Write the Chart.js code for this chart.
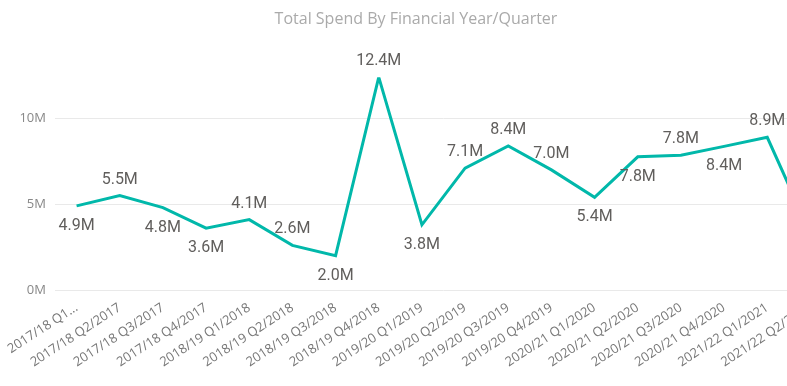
<!DOCTYPE html>
<html>
<head>
<meta charset="utf-8">
<script src="https://cdn.jsdelivr.net/npm/chart.js@4.4.1/dist/chart.umd.min.js"></script>
<style>
  html, body { margin: 0; padding: 0; background: #fff; overflow: hidden; }
  #wrap { position: relative; width: 834px; height: 386px; }
</style>
</head>
<body>
<div id="wrap"><canvas id="spend-line"></canvas></div>
<script>
// quarters along the x axis
const quarters = [
  '2017/18 Q1/2017', '2017/18 Q2/2017', '2017/18 Q3/2017', '2017/18 Q4/2017',
  '2018/19 Q1/2018', '2018/19 Q2/2018', '2018/19 Q3/2018', '2018/19 Q4/2018',
  '2019/20 Q1/2019', '2019/20 Q2/2019', '2019/20 Q3/2019', '2019/20 Q4/2019',
  '2020/21 Q1/2020', '2020/21 Q2/2020', '2020/21 Q3/2020', '2020/21 Q4/2020',
  '2021/22 Q1/2021', '2021/22 Q2/2021'
];

// total spend per quarter
const totalSpend = [
  4900000, 5500000, 4800000, 3600000, 4100000, 2600000, 2000000, 12400000,
  3800000, 7100000, 8400000, 7000000, 5400000, 7760000, 7850000, 8370000,
  8900000, 3300000
];

// y axis ticks
const yTicks = [0, 5000000, 10000000];

// where each data label sits
const labelSide = [
  'below', 'above', 'below', 'below', 'above', 'above', 'below', 'above',
  'below', 'above', 'above', 'above', 'below', 'below', 'above', 'below',
  'above', 'above'
];

function fmtM(v) {
  return (v / 1000000).toFixed(1) + 'M';
}

// simple data label plugin (no datalabels plugin available)
const pointLabels = {
  id: 'pointLabels',
  afterDatasetsDraw(chart) {
    const ctx = chart.ctx;
    const meta = chart.getDatasetMeta(0);
    ctx.save();
    ctx.font = '16px Roboto';
    ctx.fillStyle = '#605e5c';
    ctx.textAlign = 'center';
    ctx.textBaseline = 'middle';
    meta.data.forEach((pt, i) => {
      const dy = labelSide[i] === 'above' ? -16 : 20;
      ctx.fillText(fmtM(totalSpend[i]), pt.x, pt.y + dy);
    });
    ctx.restore();
  }
};

let lineChart = new Chart(document.getElementById('spend-line'), {
  type: 'line',
  data: {
    labels: quarters,
    datasets: [{
      label: 'Total Spend',
      data: totalSpend,
      borderColor: '#01B8AA',
      borderWidth: 3,
      pointRadius: 0,
      tension: 0,
      fill: false
    }]
  },
  options: {
    responsive: true,
    maintainAspectRatio: false,
    animation: false,
    layout: { padding: { left: 0, right: 2, top: 0, bottom: 0 } },
    plugins: {
      legend: { display: false },
      tooltip: { enabled: false },
      title: {
        display: true,
        text: 'Total Spend By Financial Year/Quarter',
        color: '#aaaaaa',
        font: { family: 'Open Sans', size: 16, weight: 'normal' },
        padding: { top: 10, bottom: 48 }
      }
    },
    scales: {
      x: {
        offset: true,
        grid: { display: false },
        border: { display: false },
        ticks: {
          color: '#777777',
          font: { family: 'Open Sans', size: 13 },
          minRotation: 33,
          maxRotation: 33,
          autoSkip: false,
          padding: 2,
          callback: function(val, idx) {
            // first label is cut short in the original
            return idx === 0 ? '2017/18 Q1...' : this.getLabelForValue(val);
          }
        },
        afterFit: (s) => { s.height = 96; }
      },
      y: {
        min: 0,
        max: 12400000,
        afterBuildTicks: (axis) => { axis.ticks = yTicks.map(v => ({ value: v })); },
        afterFit: (s) => { s.width = 55; },
        grid: { color: '#e9e9e9', lineWidth: 1, drawTicks: false },
        border: { display: false },
        ticks: {
          color: '#888888',
          font: { family: 'Open Sans', size: 13 },
          padding: 9,
          callback: (v) => (v / 1000000) + 'M'
        }
      }
    }
  },
  plugins: [pointLabels]
});
</script>
</body>
</html>
